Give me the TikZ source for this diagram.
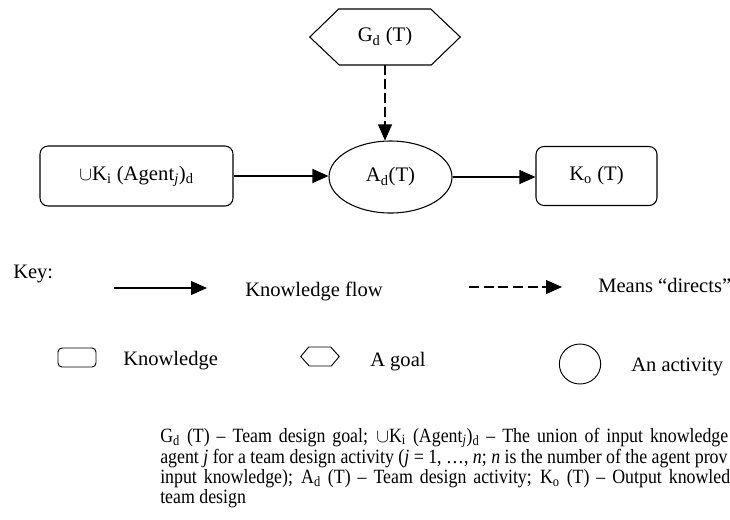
\documentclass[tikz,border=0pt]{standalone}
\usepackage{fontspec}
\setmainfont{Liberation Serif}
\newfontfamily\notefont[FakeStretch=0.88]{Liberation Serif}
\usepackage{tikz}
\usetikzlibrary{arrows.meta,positioning,shapes.geometric}
\tikzset{
  >={Triangle[length=12pt,width=10.5pt]},
  kbox/.style={draw,rounded corners=6pt,line width=0.8pt,inner sep=2pt,align=center},
  abox/.style={draw,ellipse,line width=0.8pt,inner sep=0pt},
  gbox/.style={inner sep=0pt,minimum width=112.5pt,minimum height=42pt},
  flow/.style={->,line width=0.8pt},
  dirs/.style={->,line width=0.8pt,dash pattern=on 7pt off 3.5pt},
  lab/.style={font=\fontsize{15.4}{18}\selectfont,anchor=base west,inner sep=0pt},
  note/.style={font=\notefont\fontsize{15.2}{13.5}\selectfont,anchor=base west,inner sep=0pt},
}
\newcommand{\sub}[1]{\textsubscript{#1}}

\begin{document}
\begin{tikzpicture}[x=0.75pt,y=-0.75pt,every node/.style={font=\fontsize{15.5}{18}\selectfont}]
\useasboundingbox (0,0) rectangle (730,519);
\clip (0,0) rectangle (730,519);
% main diagram
\node[kbox,minimum width=144.75pt,minimum height=45pt] (kin) at (136.5,176) {$\cup$K\sub{i} (Agent\sub{\textit{j}})\sub{d}};
\node[abox,minimum width=92.25pt,minimum height=54pt] (act) at (390.5,177) {A\sub{d}(T)};
\node[kbox,minimum width=90.75pt,minimum height=44.25pt] (kout) at (596.5,176) {K\sub{o} (T)};
\node[gbox] (goal) at (385,37) {G\sub{d} (T)};
\draw[line width=0.8pt] (goal.west) -- ++(29,-28) -- ++(92,0) -- (goal.east) -- ++(-29,28) -- ++(-92,0) -- cycle;
\draw[flow] (kin) -- (kin -| act.west);
\draw[flow] (act) -- (act -| kout.west);
\draw[dirs] (goal) -- (goal |- act.north);
% key
\node[lab] (key) at (13,278) {Key:};
\coordinate (f1) at (114,288); \coordinate (f2) at (207,288);
\draw[flow] (f1) -- (f2);
\node[lab] (kf) at (245,296) {Knowledge flow};
\coordinate (d1) at (469,287); \coordinate (d2) at (562,287);
\draw[dirs,dash pattern=on 7.5pt off 3.5pt] (d1) -- (d2);
\node[lab] (md) at (598,292) {Means “directs”};
\node[kbox,rounded corners=3pt,minimum width=28.5pt,minimum height=14.25pt,inner sep=0pt,line width=0.7pt] (kk) at (77,357.5) {};
\node[lab] (kt) at (123,365) {Knowledge};
\node[gbox,minimum width=28.5pt,minimum height=14.25pt] (kg) at (320,356.5) {};
\draw[line width=0.7pt] (kg.west) -- ++(8,-9.5) -- ++(22,0) -- (kg.east) -- ++(-8,9.5) -- ++(-22,0) -- cycle;
\node[lab] (gt) at (370,366) {A goal};
\node[abox,minimum width=31pt,minimum height=30pt,line width=0.7pt] (ka) at (580,364) {};
\node[lab] (at) at (631,371) {An activity};
% note
\node[note] (nt) at (160,442) {\parbox[t]{600pt}{\setlength{\baselineskip}{13.5pt}%
\makebox[426pt][s]{G\sub{d} (T) – Team design goal; $\cup$K\sub{i} (Agent\sub{\textit{j}})\sub{d} – The union of input knowledge}\\
agent \textit{j} for a team design activity (\textit{j} = 1, …, \textit{n}; \textit{n} is the number of the agent prov\\
\makebox[427.5pt][s]{input knowledge); A\sub{d} (T) – Team design activity; K\sub{o} (T) – Output knowled}\\
team design}};
\end{tikzpicture}
\end{document}
